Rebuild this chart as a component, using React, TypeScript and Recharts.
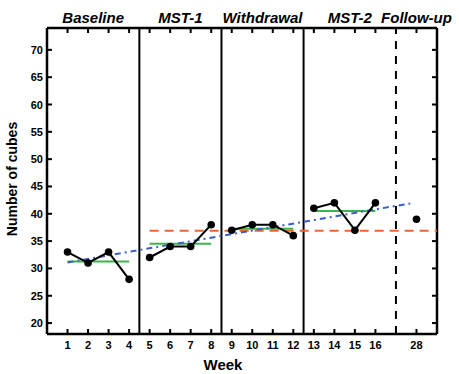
import {
	ComposedChart,
	Line,
	XAxis,
	YAxis,
	ReferenceLine,
	ReferenceArea
} from "recharts"


// x positions of the weeks on the axis (week 28 sits at slot 18)
const xTicks = [1, 2, 3, 4, 5, 6, 7, 8, 9, 10, 11, 12, 13, 14, 15, 16, 18]
const xTickLabels = ["1", "2", "3", "4", "5", "6", "7", "8", "9", "10", "11", "12", "13", "14", "15", "16", "28"]
const yTicks = [20, 25, 30, 35, 40, 45, 50, 55, 60, 65, 70]

const xDomain = [0, 19]
const yDomain = [18, 74]

const baselineWeeks = [1, 2, 3, 4]
const baselineCubes = [33, 31, 33, 28]
const mst1Weeks = [5, 6, 7, 8]
const mst1Cubes = [32, 34, 34, 38]
const withdrawalWeeks = [9, 10, 11, 12]
const withdrawalCubes = [37, 38, 38, 36]
const mst2Weeks = [13, 14, 15, 16]
const mst2Cubes = [41, 42, 37, 42]
const followUpWeeks = [18]
const followUpCubes = [39]

// phase means (green)
const meanStarts = [1, 5, 9, 13]
const meanEnds = [4, 8, 12, 16]
const meanValues = [31.25, 34.5, 37.25, 40.5]

// criterion line (orange dashed)
const criterionX = [5, 19]
const criterionY = [36.9, 36.9]

// trend line (blue dash-dot)
const trendX = [1, 17.7]
const trendY = [31.1, 41.9]

const phaseNames = ["Baseline", "MST-1", "Withdrawal", "MST-2", "Follow-up"]
const phaseBounds = [0, 4.5, 8.5, 12.5, 17, 19]


const toPoints = (xs: number[], ys: number[]) =>
	xs.map((x, i) => ({ x, v: ys[i] }))


const FONT = "'Liberation Sans', Arial, sans-serif"


const BottomTick = (props: any) => {
	const { x, y, payload } = props
	const idx = xTicks.indexOf(payload.value)
	return (
		<text
			x={x}
			y={y + 15}
			textAnchor="middle"
			fontSize={11}
			fontWeight="bold"
			fontFamily={FONT}
			fill="#000"
		>
			{xTickLabels[idx]}
		</text>
	)
}

const LeftTick = (props: any) => {
	const { x, y, payload } = props
	return (
		<text
			x={x - 4}
			y={y + 4}
			textAnchor="end"
			fontSize={11}
			fontWeight="bold"
			fontFamily={FONT}
			fill="#000"
		>
			{payload.value}
		</text>
	)
}

const YTitle = (props: any) => {
	const { viewBox } = props
	const cx = viewBox.x + 12
	const cy = viewBox.y + viewBox.height / 2 - 2
	return (
		<text
			x={cx}
			y={cy}
			transform={`rotate(-90 ${cx} ${cy})`}
			textAnchor="middle"
			dominantBaseline="central"
			fontSize={14}
			fontWeight="bold"
			fontFamily={FONT}
			fill="#000"
		>
			Number of cubes
		</text>
	)
}

const XTitle = (props: any) => {
	const { viewBox } = props
	return (
		<text
			x={viewBox.x + 176}
			y={viewBox.y + 36}
			textAnchor="middle"
			fontSize={15}
			fontWeight="bold"
			fontFamily={FONT}
			fill="#000"
		>
			Week
		</text>
	)
}

const Dot = (props: any) => {
	const { cx, cy } = props
	return <circle cx={cx} cy={cy} r={3.8} fill="#000" />
}

// short inward tick at a point on the frame, drawn as a filled bar
const tickMark = (side: string) => (props: any) => {
	const { cx, cy, index } = props
	if (cx == null || cy == null) return <g key={index} />
	let rx = cx - 1
	let ry = cy - 1
	let w = 2
	let h = 2
	if (side === "bottom") { ry = cy - 5; h = 5 }
	if (side === "top") { ry = cy; h = 5 }
	if (side === "left") { rx = cx; w = 5 }
	if (side === "right") { rx = cx - 5; w = 5 }
	return <rect key={index} x={rx} y={ry} width={w} height={h} fill="#000" />
}


export default function App() {

	const phases = [
		toPoints(baselineWeeks, baselineCubes),
		toPoints(mst1Weeks, mst1Cubes),
		toPoints(withdrawalWeeks, withdrawalCubes),
		toPoints(mst2Weeks, mst2Cubes),
		toPoints(followUpWeeks, followUpCubes)
	]

	const [x0, x1] = xDomain
	const [y0, y1] = yDomain

	const tickSets = [
		{ data: toPoints(xTicks, xTicks.map(() => y0)), side: "bottom" },
		{ data: toPoints(xTicks, xTicks.map(() => y1)), side: "top" },
		{ data: toPoints(yTicks.map(() => x0), yTicks), side: "left" },
		{ data: toPoints(yTicks.map(() => x1), yTicks), side: "right" }
	]

	return (
		<div style={{ position: "absolute", left: 0, top: 0, background: "#fff" }}>
			<ComposedChart
				width={459}
				height={374}
				margin={{ top: 28, right: 22, bottom: 0, left: 0 }}
			>

				<XAxis
					dataKey="x"
					type="number"
					domain={xDomain}
					ticks={xTicks}
					interval={0}
					height={40}
					tickSize={0}
					tickMargin={0}
					tick={<BottomTick />}
					tickLine={false}
					axisLine={false}
					label={<XTitle />}
				/>

				<YAxis
					type="number"
					domain={yDomain}
					ticks={yTicks}
					interval={0}
					width={47}
					tickSize={0}
					tickMargin={0}
					tick={<LeftTick />}
					tickLine={false}
					axisLine={false}
					label={<YTitle />}
				/>

				{/* phase names above the frame */}
				{phaseNames.map((name, i) => (
					<ReferenceArea
						key={name}
						x1={phaseBounds[i]}
						x2={phaseBounds[i + 1]}
						fill="none"
						stroke="none"
						ifOverflow="visible"
						label={{
							value: name,
							position: "top",
							offset: 5,
							fontSize: 15,
							fontWeight: "bold",
							fontStyle: "italic",
							fontFamily: FONT,
							fill: "#000"
						}}
					/>
				))}

				{/* frame */}
				<ReferenceLine x={x0} stroke="#000" strokeWidth={2.5} ifOverflow="visible" />
				<ReferenceLine x={x1} stroke="#000" strokeWidth={2.5} ifOverflow="visible" />
				<ReferenceLine y={y0} stroke="#000" strokeWidth={2.5} ifOverflow="visible" />
				<ReferenceLine y={y1} stroke="#000" strokeWidth={2.5} ifOverflow="visible" />

				{phaseBounds.slice(1, 4).map(b => (
					<ReferenceLine key={b} x={b} stroke="#000" strokeWidth={2} />
				))}

				<ReferenceLine x={phaseBounds[4]} stroke="#000" strokeWidth={2} strokeDasharray="8 7" />

				{/* inward ticks on all four sides */}
				{tickSets.map((s, i) => (
					<Line
						key={"ticks" + i}
						data={s.data}
						dataKey="v"
						stroke="none"
						dot={tickMark(s.side)}
						isAnimationActive={false}
					/>
				))}

				<Line
					data={toPoints(criterionX, criterionY)}
					dataKey="v"
					stroke="#f0642a"
					strokeWidth={2}
					strokeDasharray="9 6"
					dot={false}
					isAnimationActive={false}
				/>

				{meanValues.map((m, i) => (
					<Line
						key={"mean" + i}
						data={toPoints([meanStarts[i], meanEnds[i]], [m, m])}
						dataKey="v"
						stroke="#3cb44a"
						strokeWidth={2}
						dot={false}
						isAnimationActive={false}
					/>
				))}

				<Line
					data={toPoints(trendX, trendY)}
					dataKey="v"
					stroke="#3a5fcd"
					strokeWidth={2}
					strokeDasharray="6 4 2 4"
					dot={false}
					isAnimationActive={false}
				/>

				{phases.map((pts, i) => (
					<Line
						key={"phase" + i}
						data={pts}
						dataKey="v"
						stroke="#000"
						strokeWidth={2}
						dot={<Dot />}
						isAnimationActive={false}
					/>
				))}

			</ComposedChart>
		</div>
	)
}
